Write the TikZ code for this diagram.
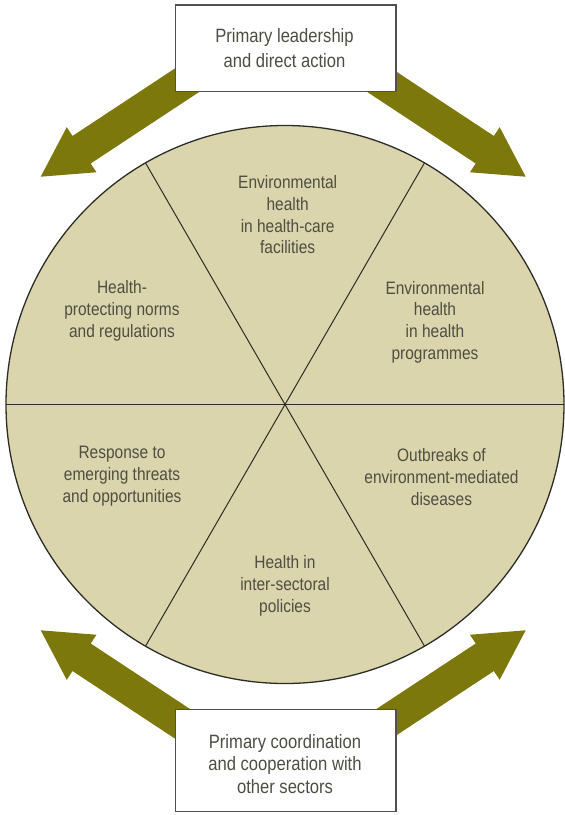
\documentclass[tikz,border=0pt]{standalone}
\usepackage{fontspec}
\setmainfont{Liberation Sans}[FakeStretch=0.86]
\definecolor{olivearrow}{RGB}{124,120,12}
\definecolor{discfill}{RGB}{218,213,172}
\definecolor{txt}{RGB}{78,78,66}
\definecolor{edge}{RGB}{45,45,40}
\definecolor{boxedge}{RGB}{80,80,80}
\tikzset{
  bigarr/.pic={\fill[olivearrow] (0,0) -- (-49,27) -- (-49,16.5) -- (-193,16.5) -- (-193,-16.5) -- (-49,-16.5) -- (-49,-27) -- cycle;},
  sector/.style={align=center, text=txt, font=\fontsize{18}{21.7}\selectfont, inner sep=0pt},
  boxframe/.style={draw=boxedge, line width=1.2pt, fill=white, minimum width=220.3pt, inner sep=0pt},
  boxtext/.style={align=center, text=txt, inner sep=0pt},
  divider/.style={draw=edge, line width=1pt}
}
\begin{document}
\begin{tikzpicture}[x=1pt,y=1pt]
\useasboundingbox (0,0) rectangle (565,-815);
% arrows
\pic[rotate=213.4] at (40.7,-176.7) {bigarr};
\pic[rotate=-33.4] at (525.7,-176.7) {bigarr};
\pic[rotate=146.6] at (40.7,-630.3) {bigarr};
\pic[rotate=33.4] at (525.7,-630.3) {bigarr};
% disc
\coordinate (c) at (285,-404.5);
\node[circle, draw=edge, line width=1.3pt, fill=discfill, minimum size=558pt, inner sep=0pt, outer sep=0pt] (disc) at (c) {};
\draw[divider] (disc.0) -- (disc.180);
\draw[divider] (disc.60) -- (disc.240);
\draw[divider] (disc.120) -- (disc.300);
% sector texts
\node[sector] (s1) at (287.7,-215) {Environmental\\health\\in health-care\\facilities};
\node[sector] (s2) at (435,-322) {Environmental\\health\\in health\\programmes};
\node[sector] (s3) at (441.5,-477) {Outbreaks of\\environment-mediated\\diseases};
\node[sector] (s4) at (285,-586) {Health in\\inter-sectoral\\policies};
\node[sector] (s5) at (122,-476) {Response to\\emerging threats\\and opportunities};
\node[sector] (s6) at (122,-311) {Health-\\protecting norms\\and regulations};
% boxes
\node[boxframe, minimum height=86.7pt] (lead) at (285.9,-48.35) {};
\node[boxtext, font=\fontsize{19.3}{25}\selectfont] (leadtext) at (284.5,-48.5) {Primary leadership\\and direct action};
\node[boxframe, minimum height=102.4pt] (coord) at (285.9,-760.5) {};
\node[boxtext, font=\fontsize{19.3}{22.8}\selectfont] (coordtext) at (285,-764) {Primary coordination\\and cooperation with\\other sectors};
\end{tikzpicture}
\end{document}
